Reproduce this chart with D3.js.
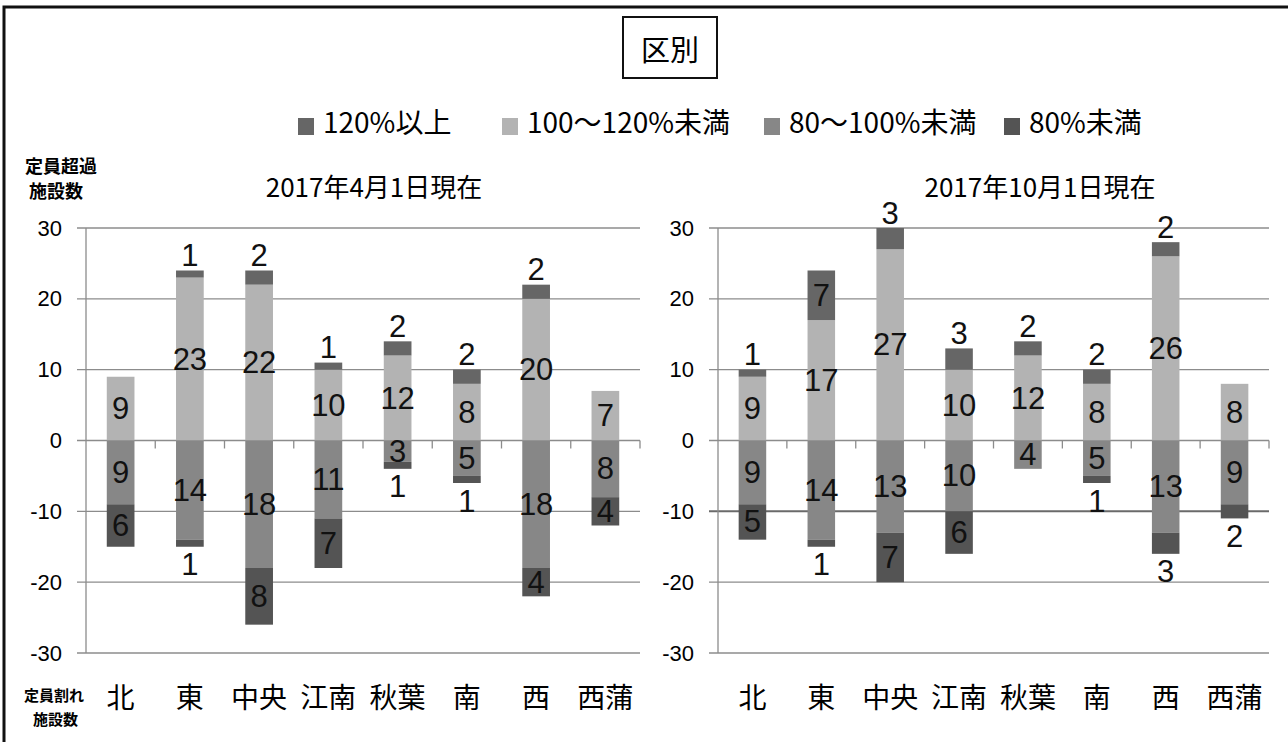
<!DOCTYPE html>
<html>
<head>
<meta charset="utf-8">
<script src="https://cdn.jsdelivr.net/npm/d3@7"></script>
<style>
  body { margin: 0; background: #fff; }
  svg { display: block; }
  .cjk { font-family: "Noto Sans CJK JP", sans-serif; }
  .num { font-family: "Liberation Sans Narrow", "Liberation Sans", Arial, sans-serif; }
</style>
</head>
<body>
<svg id="chart" width="1288" height="742"></svg>
<script>
// categories and legend
const categories = ['北', '東', '中央', '江南', '秋葉', '南', '西', '西蒲'];
const seriesNames = ['120%以上', '100～120%未満', '80～100%未満', '80%未満'];
const seriesColors = ['#666666', '#b3b3b3', '#878787', '#545454'];
const legendX = [298, 502, 764, 1004];
const yTicks = [-30, -20, -10, 0, 10, 20, 30];

// 2017年4月1日現在
const aprOver120 = [0, 1, 2, 1, 2, 2, 2, 0];
const apr100to120 = [9, 23, 22, 10, 12, 8, 20, 7];
const apr80to100 = [9, 14, 18, 11, 3, 5, 18, 8];
const aprUnder80 = [6, 1, 8, 7, 1, 1, 4, 4];

// 2017年10月1日現在
const octOver120 = [1, 7, 3, 3, 2, 2, 2, 0];
const oct100to120 = [9, 17, 27, 10, 12, 8, 26, 8];
const oct80to100 = [9, 14, 13, 10, 4, 5, 13, 9];
const octUnder80 = [5, 1, 7, 6, 0, 1, 3, 2];

const svg = d3.select('#chart');

// outer frame (left + top)
svg.append('path')
  .attr('d', 'M4,742 L4,7 L1288,7')
  .attr('fill', 'none')
  .attr('stroke', '#111')
  .attr('stroke-width', 3);

// title box
svg.append('rect')
  .attr('x', 623).attr('y', 17).attr('width', 94).attr('height', 61)
  .attr('fill', '#fff').attr('stroke', '#111').attr('stroke-width', 2);
svg.append('text')
  .attr('class', 'cjk')
  .attr('x', 670).attr('y', 48)
  .attr('text-anchor', 'middle').attr('dominant-baseline', 'central')
  .attr('font-size', 29)
  .text('区別');

// legend
seriesNames.forEach((name, i) => {
  svg.append('rect')
    .attr('x', legendX[i]).attr('y', 118).attr('width', 16).attr('height', 17)
    .attr('fill', seriesColors[i]);
  svg.append('text')
    .attr('class', 'cjk')
    .attr('x', legendX[i] + 25).attr('y', 121)
    .attr('dominant-baseline', 'central')
    .attr('font-size', 28)
    .text(name);
});

// side captions
function caption(lines, x, y, size, gap) {
  lines.forEach((s, i) => {
    svg.append('text')
      .attr('class', 'cjk')
      .attr('x', x[i]).attr('y', y + i * gap)
      .attr('dominant-baseline', 'central')
      .attr('font-size', size)
      .attr('font-weight', 'bold')
      .text(s);
  });
}
caption(['定員超過', '施設数'], [25, 29], 165, 18, 25);
caption(['定員割れ', '施設数'], [24, 33], 694, 15, 24);

const y = d3.scaleLinear().domain([-30, 30]).range([653, 228]);

function drawPanel(x0, x1, title, titleX, over120, p100, p80, under80, darkLine) {
  const x = d3.scaleBand().domain(categories).range([x0, x1])
    .paddingInner(0.6).paddingOuter(0.3);
  const g = svg.append('g');

  // gridlines
  g.selectAll('line.grid')
    .data(yTicks)
    .enter().append('line')
    .attr('class', 'grid')
    .attr('x1', x0 - 9).attr('x2', x1)
    .attr('y1', d => y(d)).attr('y2', d => y(d))
    .attr('stroke', d => d === darkLine ? '#6a6a6a' : '#8c8c8c')
    .attr('stroke-width', d => d === darkLine ? 2 : 1.3);

  // y axis line
  g.append('line')
    .attr('x1', x0).attr('x2', x0)
    .attr('y1', y(30)).attr('y2', y(-30))
    .attr('stroke', '#8c8c8c').attr('stroke-width', 1.3);

  // category ticks on zero line
  d3.range(1, categories.length + 1).forEach(i => {
    const tx = x0 + i * x.step();
    g.append('line')
      .attr('x1', tx).attr('x2', tx)
      .attr('y1', y(0)).attr('y2', y(0) + 8)
      .attr('stroke', '#8c8c8c').attr('stroke-width', 1.3);
  });

  // tick labels
  g.selectAll('text.tick')
    .data(yTicks)
    .enter().append('text')
    .attr('class', 'num')
    .attr('x', x0 - 24).attr('y', d => y(d))
    .attr('text-anchor', 'end').attr('dominant-baseline', 'central')
    .attr('font-size', 22)
    .text(d => d);

  // segments
  const segs = [];
  categories.forEach((c, i) => {
    const a = p100[i], b = over120[i], m = p80[i], u = under80[i];
    segs.push({ c, s: 1, y0: 0, y1: a, v: a, pos: 'mid' });
    segs.push({ c, s: 0, y0: a, y1: a + b, v: b, pos: 'top' });
    segs.push({ c, s: 2, y0: -m, y1: 0, v: m, pos: 'mid' });
    segs.push({ c, s: 3, y0: -m - u, y1: -m, v: u, pos: 'bottom' });
  });
  const shown = segs.filter(d => d.v > 0);

  g.selectAll('rect.bar')
    .data(shown)
    .enter().append('rect')
    .attr('class', 'bar')
    .attr('x', d => x(d.c))
    .attr('width', x.bandwidth())
    .attr('y', d => y(d.y1))
    .attr('height', d => y(d.y0) - y(d.y1))
    .attr('fill', d => seriesColors[d.s]);

  g.selectAll('text.val')
    .data(shown)
    .enter().append('text')
    .attr('class', 'num')
    .attr('x', d => x(d.c) + x.bandwidth() / 2)
    .attr('y', d => {
      if (d.pos === 'top' && d.v < 4) return y(d.y1) - 15;
      if (d.pos === 'bottom' && d.v < 4) return y(d.y0) + 18;
      return y((d.y0 + d.y1) / 2);
    })
    .attr('text-anchor', 'middle').attr('dominant-baseline', 'central')
    .attr('font-size', 31)
    .attr('fill', '#111')
    .text(d => d.v);

  // category labels
  g.selectAll('text.cat')
    .data(categories)
    .enter().append('text')
    .attr('class', 'cjk')
    .attr('x', d => x(d) + x.bandwidth() / 2)
    .attr('y', 696)
    .attr('text-anchor', 'middle').attr('dominant-baseline', 'central')
    .attr('font-size', 28)
    .text(d => d);

  // panel title
  svg.append('text')
    .attr('class', 'cjk')
    .attr('x', titleX).attr('y', 185)
    .attr('text-anchor', 'middle').attr('dominant-baseline', 'central')
    .attr('font-size', 26)
    .text(title);
}

drawPanel(86, 640, '2017年4月1日現在', 374, aprOver120, apr100to120, apr80to100, aprUnder80, null);
drawPanel(718, 1269, '2017年10月1日現在', 1040, octOver120, oct100to120, oct80to100, octUnder80, -10);
</script>
</body>
</html>
